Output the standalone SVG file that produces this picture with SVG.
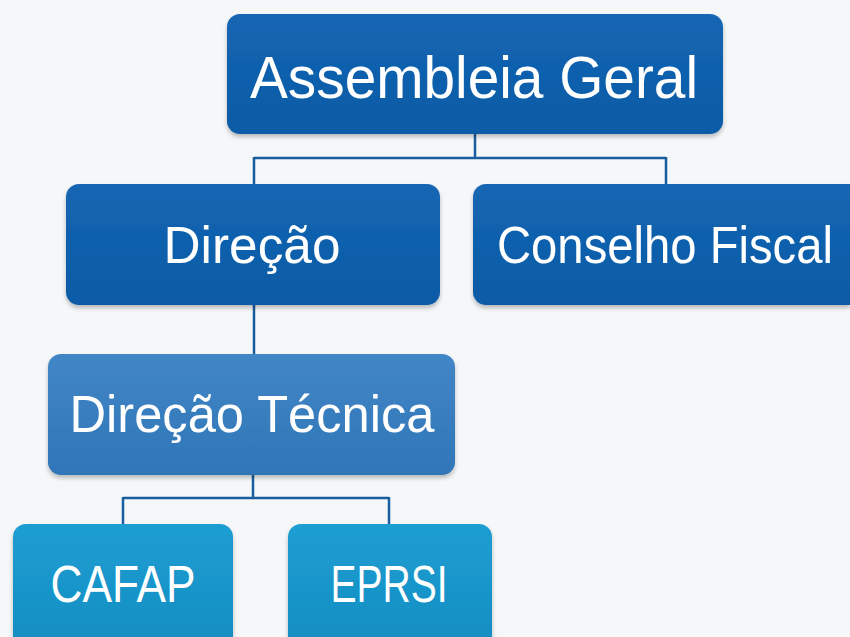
<svg xmlns="http://www.w3.org/2000/svg" width="850" height="637" viewBox="0 0 850 637">
<defs>
<linearGradient id="gTop" x1="0" y1="0" x2="0" y2="1"><stop offset="0" stop-color="#1466b3"/><stop offset="1" stop-color="#0d5aa6"/></linearGradient>
<linearGradient id="gMid" x1="0" y1="0" x2="0" y2="1"><stop offset="0" stop-color="#4286c6"/><stop offset="1" stop-color="#2f76b8"/></linearGradient>
<linearGradient id="gLow" x1="0" y1="0" x2="0" y2="1"><stop offset="0" stop-color="#1c9ed3"/><stop offset="1" stop-color="#168cc0"/></linearGradient>
<filter id="sh" x="-5%" y="-5%" width="110%" height="120%"><feDropShadow dx="0" dy="3" stdDeviation="2" flood-color="#000" flood-opacity="0.25"/></filter>
</defs>
<style>
.box{filter:url(#sh);}
.t{font-family:"Liberation Sans",Arial,sans-serif;fill:#ffffff;text-anchor:middle;}
.c{stroke:#1a5d9e;stroke-width:2.5;fill:none;}
</style>
<rect width="850" height="637" fill="#f5f7f8"/>
<g id="connectors">
<path class="c" d="M475 134V158M254 158H666M254 157V184M666 157V184"/>
<path class="c" d="M254 305V354"/>
<path class="c" d="M253 475V498M123 498H389M123 497V524M389 497V524"/>
</g>
<g id="assembleia">
<rect class="box" x="227" y="14" width="496" height="120" rx="13" fill="url(#gTop)"/>
<text class="t" x="474" y="98" font-size="60" textLength="448" lengthAdjust="spacingAndGlyphs">Assembleia Geral</text>
</g>
<g id="direcao">
<rect class="box" x="66" y="184" width="374" height="121" rx="13" fill="url(#gTop)"/>
<text class="t" x="252" y="263" font-size="52" textLength="177" lengthAdjust="spacingAndGlyphs">Direção</text>
</g>
<g id="conselho">
<path class="box" d="M486 184H850V305H486A13 13 0 0 1 473 292V197A13 13 0 0 1 486 184Z" fill="url(#gTop)"/>
<text class="t" x="665" y="263" font-size="52" textLength="336" lengthAdjust="spacingAndGlyphs">Conselho Fiscal</text>
</g>
<g id="direcao-tecnica">
<rect class="box" x="48" y="354" width="407" height="121" rx="13" fill="url(#gMid)"/>
<text class="t" x="252" y="432" font-size="52" textLength="365" lengthAdjust="spacingAndGlyphs">Direção Técnica</text>
</g>
<g id="cafap">
<rect class="box" x="13" y="524" width="220" height="130" rx="13" fill="url(#gLow)"/>
<text class="t" x="123" y="602" font-size="52" textLength="145" lengthAdjust="spacingAndGlyphs">CAFAP</text>
</g>
<g id="eprsi">
<rect class="box" x="288" y="524" width="204" height="130" rx="13" fill="url(#gLow)"/>
<text class="t" x="389" y="602" font-size="52" textLength="117" lengthAdjust="spacingAndGlyphs">EPRSI</text>
</g>
</svg>
